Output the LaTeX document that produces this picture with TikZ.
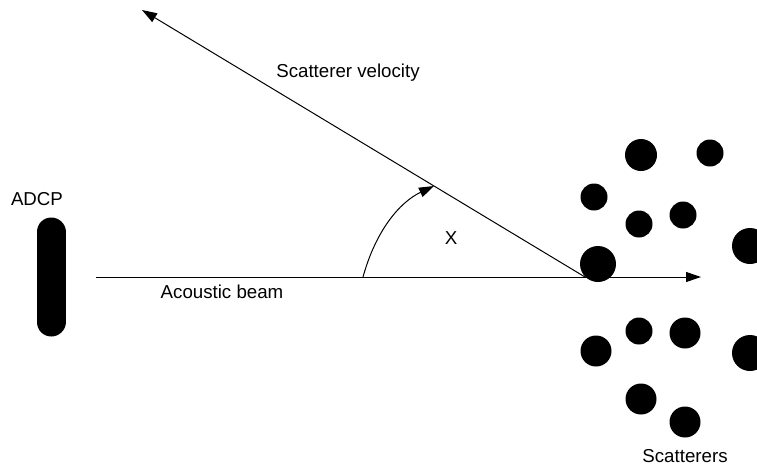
\documentclass[tikz,border=0pt]{standalone}
\usepackage{fontspec}
\setmainfont{Liberation Sans}
\usetikzlibrary{arrows.meta}
\begin{document}
\begin{tikzpicture}[x=1pt,y=-1pt,
  lbl/.style={font=\fontsize{18.7}{22}\selectfont, inner sep=0pt},
  conn/.style={line width=1pt, -{Triangle[length=15pt,width=10pt]}},
  dot/.style={fill=black}]
\useasboundingbox (0,0) rectangle (757,466);
\clip (0,0) rectangle (757,466);
% ADCP
\draw[line width=29pt, line cap=round] (51,232) -- (51,322);
\node[lbl] (adcp) at (37,199) {ADCP};
% labels
\node[lbl] (vel) at (348,73) {Scatterer velocity};
\node[lbl] (beam) at (222,292) {Acoustic beam};
\node[lbl] (x) at (451,238) {X};
\node[lbl] (scat) at (685,456) {Scatterers};
% coordinates
\coordinate (b0) at (96,277);
\coordinate (b1) at (701,277);
\coordinate (s0) at (585,277);
\coordinate (v1) at (142,10);
\coordinate (a0) at (363,277);
\coordinate (a1) at (434,186);
% lines
\draw[conn] (b0) -- (b1);
\draw[conn] (s0) -- (v1);
\draw[conn] (a0) .. controls (376,230) and (400,202) .. (a1);
% scatterers
\fill[dot] (641,155) circle (16);
\fill[dot] (710,153) circle (13.5);
\fill[dot] (594,197) circle (13.5);
\fill[dot] (639,224) circle (13.5);
\fill[dot] (683,215) circle (13.5);
\fill[dot] (750,246) circle (18);
\fill[dot] (598,264) circle (18);
\fill[dot] (639,331) circle (13.5);
\fill[dot] (685,333) circle (15.5);
\fill[dot] (596,351) circle (15.5);
\fill[dot] (750,353) circle (18);
\fill[dot] (641,399) circle (15.5);
\fill[dot] (685,422) circle (15.5);
\end{tikzpicture}
\end{document}
